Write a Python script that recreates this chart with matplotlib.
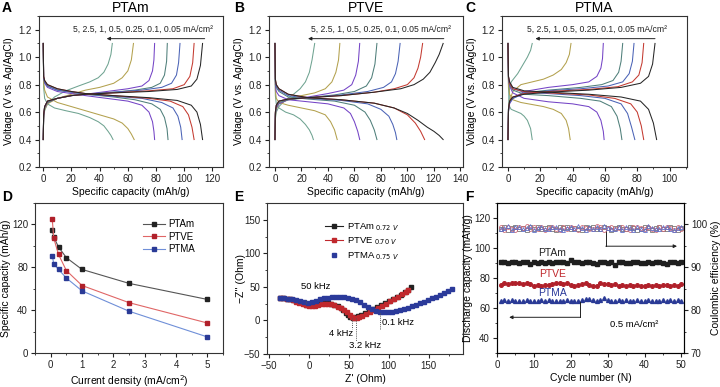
import matplotlib
matplotlib.use("Agg")
import matplotlib.pyplot as plt
from matplotlib.ticker import MultipleLocator

plt.rcParams['font.family'] = ['Liberation Sans', 'DejaVu Sans']
plt.rcParams['axes.linewidth'] = 0.8
plt.rcParams['xtick.major.width'] = 0.8
plt.rcParams['ytick.major.width'] = 0.8
plt.rcParams['xtick.minor.width'] = 0.6
plt.rcParams['ytick.minor.width'] = 0.6
plt.rcParams['xtick.major.size'] = 3
plt.rcParams['ytick.major.size'] = 3
plt.rcParams['xtick.minor.size'] = 1.6
plt.rcParams['ytick.minor.size'] = 1.6
plt.rcParams['xtick.labelsize'] = 7
plt.rcParams['ytick.labelsize'] = 7

# ---------------- data ----------------
rates = ["5", "2.5", "1", "0.5", "0.25", "0.1", "0.05"]
rate_colors = ["#6fa391", "#b3a14e", "#7444c6", "#4f7f7a", "#4b63b6", "#c43a30", "#262626"]

# charge / discharge curves (capacity mAh/g, voltage V), one entry per rate
ptam_ch = [
    ([0, 0.3, 1, 3, 8, 16, 25, 33, 39, 43, 46, 48, 49],
     [0.40, 0.55, 0.61, 0.66, 0.71, 0.755, 0.79, 0.82, 0.85, 0.89, 0.95, 1.02, 1.10]),
    ([0, 0.3, 1, 3, 10, 20, 30, 40, 50, 56, 60, 62.5, 64],
     [0.40, 0.56, 0.62, 0.66, 0.70, 0.73, 0.76, 0.78, 0.81, 0.85, 0.90, 0.98, 1.10]),
    ([0, 0.3, 1, 3, 10, 20, 30, 45, 60, 70, 75, 77.5, 78.5, 79],
     [0.40, 0.57, 0.63, 0.67, 0.70, 0.72, 0.73, 0.75, 0.77, 0.79, 0.83, 0.90, 0.98, 1.10]),
    ([0, 0.3, 1, 3, 10, 20, 30, 50, 65, 77, 83, 86, 87.5, 88],
     [0.40, 0.58, 0.64, 0.67, 0.70, 0.72, 0.73, 0.745, 0.76, 0.78, 0.81, 0.87, 0.97, 1.10]),
    ([0, 0.3, 1, 3, 10, 20, 30, 50, 70, 84, 91, 94.5, 96, 97],
     [0.40, 0.58, 0.64, 0.68, 0.70, 0.72, 0.73, 0.745, 0.76, 0.78, 0.81, 0.87, 0.96, 1.10]),
    ([0, 0.3, 1, 3, 10, 20, 30, 50, 75, 92, 100, 104, 106, 107],
     [0.40, 0.58, 0.64, 0.68, 0.70, 0.72, 0.73, 0.74, 0.755, 0.77, 0.80, 0.86, 0.96, 1.10]),
    ([0, 0.3, 1, 3, 10, 20, 30, 50, 75, 95, 105, 109, 111.5, 113],
     [0.40, 0.58, 0.64, 0.68, 0.70, 0.72, 0.73, 0.74, 0.75, 0.765, 0.79, 0.84, 0.94, 1.10]),
]
ptam_dc = [
    ([0, 0.3, 1, 3, 8, 16, 25, 33, 39, 43, 46, 48, 49.5],
     [1.10, 0.78, 0.70, 0.66, 0.63, 0.61, 0.59, 0.56, 0.53, 0.50, 0.46, 0.43, 0.40]),
    ([0, 0.3, 1, 3, 10, 20, 30, 40, 50, 56, 60, 62.5, 64.5],
     [1.10, 0.82, 0.76, 0.71, 0.67, 0.64, 0.61, 0.58, 0.55, 0.52, 0.48, 0.44, 0.40]),
    ([0, 0.3, 1, 3, 10, 20, 30, 45, 60, 70, 75, 77.5, 78.5, 79],
     [1.10, 0.85, 0.81, 0.78, 0.75, 0.735, 0.72, 0.70, 0.68, 0.65, 0.60, 0.53, 0.46, 0.40]),
    ([0, 0.3, 1, 3, 10, 20, 30, 50, 65, 77, 83, 86, 87.8, 88.5],
     [1.10, 0.85, 0.82, 0.79, 0.76, 0.745, 0.73, 0.71, 0.69, 0.66, 0.62, 0.56, 0.48, 0.40]),
    ([0, 0.3, 1, 3, 10, 20, 30, 50, 70, 84, 92, 95.5, 97.5, 98.5],
     [1.10, 0.85, 0.82, 0.79, 0.76, 0.745, 0.73, 0.715, 0.70, 0.67, 0.63, 0.57, 0.49, 0.40]),
    ([0, 0.3, 1, 3, 10, 20, 30, 50, 75, 90, 99, 103, 105.5, 107],
     [1.10, 0.86, 0.83, 0.80, 0.77, 0.75, 0.735, 0.72, 0.70, 0.68, 0.64, 0.58, 0.49, 0.40]),
    ([0, 0.3, 1, 3, 10, 20, 30, 50, 75, 95, 105, 109, 111.5, 113],
     [1.10, 0.86, 0.83, 0.80, 0.77, 0.75, 0.735, 0.72, 0.705, 0.685, 0.65, 0.60, 0.51, 0.40]),
]

ptve_ch = [
    ([0, 0.3, 1, 3, 8, 14, 19, 23, 26, 28, 30],
     [0.40, 0.55, 0.60, 0.64, 0.69, 0.73, 0.77, 0.82, 0.89, 0.98, 1.10]),
    ([0, 0.3, 1, 3, 10, 20, 30, 38, 43, 46, 48, 49],
     [0.40, 0.57, 0.62, 0.66, 0.69, 0.72, 0.74, 0.77, 0.82, 0.89, 0.98, 1.10]),
    ([0, 0.3, 1, 3, 10, 25, 40, 52, 58, 61, 63, 64],
     [0.40, 0.58, 0.63, 0.66, 0.69, 0.71, 0.735, 0.76, 0.80, 0.87, 0.97, 1.10]),
    ([0, 0.3, 1, 3, 10, 25, 45, 60, 69, 73, 75.5, 77],
     [0.40, 0.59, 0.64, 0.67, 0.69, 0.705, 0.725, 0.75, 0.79, 0.85, 0.95, 1.10]),
    ([0, 0.3, 1, 3, 10, 25, 50, 70, 82, 88, 91, 93, 94.5],
     [0.40, 0.59, 0.65, 0.68, 0.695, 0.705, 0.725, 0.75, 0.78, 0.82, 0.88, 0.97, 1.10]),
    ([0, 0.3, 1, 3, 10, 25, 50, 75, 90, 100, 105, 108, 110, 111.5],
     [0.40, 0.60, 0.65, 0.68, 0.695, 0.705, 0.72, 0.745, 0.77, 0.80, 0.85, 0.92, 1.00, 1.10]),
    ([0, 0.3, 1, 3, 10, 25, 50, 75, 95, 105, 112, 117, 121, 124, 127],
     [0.40, 0.60, 0.65, 0.68, 0.695, 0.705, 0.72, 0.745, 0.77, 0.80, 0.84, 0.89, 0.96, 1.02, 1.10]),
]
ptve_dc = [
    ([0, 0.3, 1, 3, 8, 14, 19, 23, 26, 28, 29],
     [1.10, 0.72, 0.66, 0.63, 0.60, 0.58, 0.55, 0.51, 0.47, 0.43, 0.40]),
    ([0, 0.3, 1, 3, 10, 20, 30, 38, 42, 45, 47],
     [1.10, 0.76, 0.70, 0.67, 0.65, 0.63, 0.61, 0.58, 0.53, 0.47, 0.40]),
    ([0, 0.3, 1, 3, 10, 25, 40, 52, 57, 60, 62.5, 64],
     [1.10, 0.80, 0.75, 0.72, 0.69, 0.675, 0.66, 0.63, 0.59, 0.53, 0.46, 0.40]),
    ([0, 0.3, 1, 3, 10, 25, 45, 60, 68, 72, 75, 77],
     [1.10, 0.82, 0.78, 0.75, 0.71, 0.695, 0.68, 0.65, 0.60, 0.54, 0.47, 0.40]),
    ([0, 0.3, 1, 3, 10, 25, 50, 70, 80, 86, 89, 91, 92],
     [1.10, 0.83, 0.79, 0.76, 0.72, 0.70, 0.685, 0.66, 0.62, 0.57, 0.51, 0.45, 0.40]),
    ([0, 0.3, 1, 3, 10, 25, 50, 75, 90, 100, 106, 110, 113],
     [1.10, 0.84, 0.80, 0.77, 0.73, 0.705, 0.69, 0.665, 0.63, 0.58, 0.52, 0.46, 0.40]),
    ([0, 0.3, 1, 3, 10, 25, 50, 75, 90, 100, 108, 115, 120, 124, 127],
     [1.10, 0.84, 0.80, 0.77, 0.73, 0.705, 0.69, 0.665, 0.63, 0.59, 0.54, 0.49, 0.46, 0.43, 0.40]),
]

ptma_ch = [
    ([0, 0.3, 1, 2, 4, 6, 8, 10, 12, 14, 15],
     [0.40, 0.62, 0.78, 0.82, 0.85, 0.88, 0.92, 0.96, 1.00, 1.05, 1.10]),
    ([0, 0.3, 1, 3, 8, 15, 22, 28, 33, 36, 38, 39],
     [0.40, 0.60, 0.68, 0.75, 0.80, 0.82, 0.84, 0.87, 0.91, 0.96, 1.02, 1.10]),
    ([0, 0.3, 1, 3, 10, 25, 40, 50, 55, 57.5, 58.5, 59],
     [0.40, 0.60, 0.66, 0.70, 0.75, 0.78, 0.80, 0.82, 0.86, 0.92, 0.99, 1.10]),
    ([0, 0.3, 1, 3, 10, 25, 45, 58, 65, 68.5, 70, 71],
     [0.40, 0.61, 0.67, 0.70, 0.74, 0.76, 0.78, 0.80, 0.83, 0.89, 0.97, 1.10]),
    ([0, 0.3, 1, 3, 10, 25, 45, 62, 71, 75, 77, 78],
     [0.40, 0.62, 0.67, 0.70, 0.735, 0.755, 0.77, 0.79, 0.82, 0.88, 0.97, 1.10]),
    ([0, 0.3, 1, 3, 10, 25, 50, 68, 77, 81, 83, 84],
     [0.40, 0.62, 0.68, 0.71, 0.735, 0.75, 0.765, 0.785, 0.82, 0.87, 0.96, 1.10]),
    ([0, 0.3, 1, 3, 10, 25, 50, 70, 82, 87, 89.5, 91],
     [0.40, 0.62, 0.68, 0.71, 0.73, 0.745, 0.76, 0.78, 0.81, 0.86, 0.95, 1.10]),
]
ptma_dc = [
    ([0, 0.3, 1, 2, 4, 6, 8, 10, 12, 14, 15],
     [1.10, 0.78, 0.64, 0.62, 0.61, 0.60, 0.59, 0.57, 0.54, 0.48, 0.40]),
    ([0, 0.3, 1, 3, 8, 15, 22, 28, 33, 36, 37.5, 38.5],
     [1.10, 0.80, 0.73, 0.69, 0.67, 0.655, 0.64, 0.62, 0.59, 0.54, 0.48, 0.40]),
    ([0, 0.3, 1, 3, 10, 25, 40, 50, 55, 57.5, 59, 59.5],
     [1.10, 0.84, 0.79, 0.74, 0.70, 0.675, 0.66, 0.64, 0.60, 0.54, 0.46, 0.40]),
    ([0, 0.3, 1, 3, 10, 25, 45, 57, 64, 67.5, 69.5, 70.5],
     [1.10, 0.85, 0.80, 0.76, 0.73, 0.72, 0.70, 0.68, 0.64, 0.57, 0.48, 0.40]),
    ([0, 0.3, 1, 3, 10, 25, 45, 60, 70, 74, 76.5, 78.5],
     [1.10, 0.86, 0.81, 0.77, 0.745, 0.735, 0.72, 0.70, 0.66, 0.59, 0.49, 0.40]),
    ([0, 0.3, 1, 3, 10, 25, 50, 66, 76, 80, 82.5, 84],
     [1.10, 0.86, 0.81, 0.77, 0.75, 0.74, 0.725, 0.70, 0.66, 0.60, 0.50, 0.40]),
    ([0, 0.3, 1, 3, 10, 25, 50, 70, 82, 87, 90, 92],
     [1.10, 0.86, 0.82, 0.78, 0.755, 0.745, 0.73, 0.71, 0.68, 0.62, 0.52, 0.40]),
]

# rate capability (panel D)
current_density = [0.05, 0.1, 0.25, 0.5, 1, 2.5, 5]
rate_ptam = [115, 108, 99, 89, 78, 65, 50]
rate_ptve = [125, 107, 92, 77, 63, 47, 28]
rate_ptma = [91, 83, 78, 70, 58, 39, 15]

# impedance (panel E)
zre_ptam = [-36, -32, -28, -24, -20, -16, -12, -8, -4, 0, 4, 8, 12, 16, 20, 24, 28, 32, 36,
            40, 43, 46, 49, 52, 55, 58, 61, 65, 70, 75, 80, 85, 90, 95, 100, 105, 110, 115,
            120, 124, 128]
zim_ptam = [33, 33, 32.5, 32, 31, 29.5, 27.5, 25.5, 23.5, 22.5, 22.5, 23.5, 24.5, 25.5, 26, 26,
            25, 23.5, 21, 18, 15, 11.5, 8, 5, 4, 4.5, 6, 8, 10.5, 13.5, 16.5, 19.5, 22.5, 25.5,
            28.5, 31.5, 34.5, 38, 42, 46, 50]
zre_ptve = [-36, -32, -28, -24, -20, -16, -12, -8, -4, 0, 4, 8, 12, 16, 20, 24, 28, 32, 36,
            40, 44, 48, 51, 54, 57, 60, 63, 67, 72, 77, 82, 87, 92, 97, 102, 107, 112, 117,
            121, 124]
zim_ptve = [33.5, 33, 32.5, 31.5, 30, 28, 26, 24, 22.5, 21.5, 21.5, 22, 23, 24, 24.5, 24.5, 24,
            22.5, 20.5, 18, 15.5, 12, 8.5, 5.5, 4, 4, 5, 7, 10, 13, 16, 19, 22, 25, 28.5, 32,
            35.5, 39.5, 43, 46]
zre_ptma = [-36, -31, -26, -21, -16, -11, -6, -1, 4, 9, 14, 19, 24, 29, 34, 39, 44, 49, 54, 59,
            64, 69, 74, 79, 84, 89, 94, 99, 104, 109, 114, 119, 124, 129, 134, 139, 144, 149,
            154, 159, 164, 169, 174, 179]
zim_ptma = [33.5, 33, 32.5, 31.5, 30, 28.5, 27, 26.5, 27.5, 29.5, 31.5, 33, 34, 35, 35.5, 35.5,
            35, 34, 32.5, 30, 27, 23.5, 20, 17, 14.5, 12.5, 12, 12, 12.5, 13.5, 15, 17, 19, 21,
            23, 25.5, 28, 30.5, 33, 35.5, 38.5, 41.5, 44.5, 47.5]

# cycling (panel F)
cycles = list(range(1, 51))
cap_ptam = [90.5, 91, 90, 90.5, 91, 90, 90.5, 91, 89.5, 90.5, 90, 90.5, 90, 90.5, 90, 91, 90.5,
            90.5, 90, 92, 91, 90.5, 90, 91, 90.5, 90, 89.5, 90.5, 91, 90, 90.5, 89, 90.5, 91, 90,
            90, 90.5, 91, 90, 90, 90.5, 90, 91, 90.5, 90, 89.5, 90.5, 91, 90, 90.5]
cap_ptve = [75.5, 76.5, 76, 77, 76.5, 76.5, 76, 76.5, 76, 75, 75.5, 75, 75.5, 75.5, 76, 77, 76.5,
            76, 76.5, 75.5, 75, 75.5, 76, 76.5, 75.5, 75, 74.5, 76.5, 76, 76, 75.5, 76, 75, 75.5,
            75, 75.5, 75, 75.5, 75, 74.5, 75.5, 75, 75.5, 75, 75.5, 75.5, 75, 75.5, 75, 76]
cap_ptma = [64.5, 65.5, 65, 65.5, 65, 65, 65, 65.5, 65, 65, 64.5, 65.5, 65, 65.5, 65, 64.5, 65,
            65, 65.5, 65, 65, 65, 65.5, 66, 66, 65.5, 65, 65.5, 66.5, 65.5, 65, 64.5, 65.5, 65,
            65.5, 65, 65, 65.5, 64.5, 65, 65.5, 65, 64.5, 65, 65.5, 65, 65.5, 65, 65.5, 65]
ce_ptam = [99.0, 99.4, 98.8, 99.2, 99.5, 98.9, 99.1, 98.7, 99.3, 99.0, 99.4, 98.9, 99.2, 99.5,
           99.0, 98.8, 99.3, 99.1, 99.4, 98.9, 99.2, 99.0, 98.7, 99.3, 99.1, 99.5, 98.9, 99.0,
           99.4, 99.2, 98.8, 99.1, 99.3, 99.0, 98.9, 99.4, 99.2, 98.8, 99.0, 99.3, 99.1, 98.6,
           99.2, 99.5, 99.0, 98.9, 99.3, 99.1, 98.8, 99.2]
ce_ptve = [99.3, 98.8, 99.5, 99.0, 98.7, 99.4, 99.2, 99.6, 98.9, 99.3, 99.0, 99.5, 98.8, 99.1,
           99.4, 99.0, 98.7, 99.3, 98.9, 99.5, 99.1, 98.8, 99.4, 99.2, 98.9, 99.0, 99.6, 99.3,
           98.8, 99.1, 99.5, 98.9, 99.2, 99.4, 99.0, 98.7, 99.3, 99.5, 99.1, 98.9, 99.4, 99.0,
           98.6, 99.3, 98.9, 99.5, 99.2, 98.8, 99.4, 99.0]
ce_ptma = [98.9, 99.2, 99.6, 98.8, 99.3, 99.5, 98.9, 99.1, 99.6, 98.8, 99.2, 99.4, 99.0, 98.9,
           99.5, 99.3, 99.0, 98.8, 99.2, 99.4, 98.9, 99.6, 99.1, 98.8, 99.3, 99.0, 99.4, 98.9,
           99.6, 99.2, 98.9, 99.0, 99.5, 98.8, 99.3, 99.1, 98.7, 99.4, 99.0, 98.8, 99.6, 99.2,
           99.0, 98.9, 99.5, 99.3, 99.0, 98.8, 99.2, 99.4]

# ---------------- figure ----------------
W, H = 720, 387
fig = plt.figure(figsize=(7.2, 3.87), dpi=100)


def rect(l, t, r, b):
    return [l / W, 1 - b / H, (r - l) / W, (b - t) / H]


axA = fig.add_axes(rect(39, 16, 223, 167))
axB = fig.add_axes(rect(269, 16, 463, 167))
axC = fig.add_axes(rect(502, 16, 687, 167))
axD = fig.add_axes(rect(35, 203, 223, 353))
axE = fig.add_axes(rect(267, 203, 463, 354))
axF = fig.add_axes(rect(497, 203, 684, 353))

lab_fs = 7.5


def style(ax):
    ax.tick_params(which='both', direction='out', top=False, right=False, pad=2,
                   colors='#222222')
    for s in ax.spines.values():
        s.set_color('#333333')


# top row: charge/discharge
top = [(axA, "PTAm", ptam_ch, ptam_dc, (-3, 127.5), 45, 114.5, 71),
       (axB, "PTVE", ptve_ch, ptve_dc, (-4.5, 142), 25, 127.5, 80),
       (axC, "PTMA", ptma_ch, ptma_dc, (-3.7, 110.8), 17, 91, 55)]
for ax, title, chg, dch, xl, a_end, a_start, tx in top:
    for (cx, cy), (dx, dy), col in zip(chg, dch, rate_colors):
        ax.plot(cx, cy, color=col, lw=0.75)
        ax.plot(dx, dy, color=col, lw=0.75)
    ax.set_xlim(*xl)
    ax.set_ylim(0.2, 1.3)
    ax.set_yticks([0.2, 0.4, 0.6, 0.8, 1.0, 1.2])
    ax.yaxis.set_minor_locator(MultipleLocator(0.1))
    ax.xaxis.set_major_locator(MultipleLocator(20))
    ax.xaxis.set_minor_locator(MultipleLocator(10))
    ax.set_title(title, fontsize=10, pad=3)
    ax.set_xlabel("Specific capacity (mAh/g)", fontsize=lab_fs, labelpad=2)
    ax.set_ylabel("Voltage (V vs. Ag/AgCl)", fontsize=lab_fs, labelpad=3)
    ax.annotate("", xy=(a_end, 1.135), xytext=(a_start, 1.135),
                arrowprops=dict(arrowstyle='-|>', lw=0.7, color='#222222',
                                mutation_scale=5, shrinkA=0, shrinkB=0))
    ax.text(tx, 1.2, ", ".join(rates) + " mA/cm\u00b2", fontsize=6.2, ha='center',
            va='center', color='#222222')
    style(ax)

# panel D
axD.plot(current_density, rate_ptam, color='#555555', lw=0.8, marker='s', ms=3,
         mfc='#222222', mec='#222222', label='PTAm')
axD.plot(current_density, rate_ptve, color='#e06666', lw=0.8, marker='s', ms=3,
         mfc='#b0202a', mec='#b0202a', label='PTVE')
axD.plot(current_density, rate_ptma, color='#6f8fd8', lw=0.8, marker='s', ms=3,
         mfc='#2a3a96', mec='#2a3a96', label='PTMA')
axD.set_xlim(-0.5, 5.5)
axD.set_ylim(0, 140)
axD.set_yticks([0, 40, 80, 120])
axD.yaxis.set_minor_locator(MultipleLocator(20))
axD.xaxis.set_minor_locator(MultipleLocator(0.5))
axD.set_xlabel("Current density (mA/cm$^2$)", fontsize=lab_fs, labelpad=2)
axD.set_ylabel("Specific capacity (mAh/g)", fontsize=lab_fs)
axD.yaxis.set_label_coords(-0.13, 0.5)
axD.legend(loc='upper right', bbox_to_anchor=(0.9, 0.95), frameon=False, fontsize=7,
           handlelength=2.2, labelspacing=0.25, handletextpad=0.4)
style(axD)

# panel E
axE.plot(zre_ptam, zim_ptam, color='#222222', lw=0.8, marker='s', ms=2.2,
         label='PTAm$_{\\ 0.72\\ V}$')
axE.plot(zre_ptve, zim_ptve, color='#c0282d', lw=0.8, marker='s', ms=2.2,
         label='PTVE$_{\\ 0.70\\ V}$')
axE.plot(zre_ptma, zim_ptma, color='#2b3a9a', lw=0, marker='s', ms=2.2,
         label='PTMA$_{\\ 0.75\\ V}$')
axE.set_xlim(-52.5, 193)
axE.set_ylim(-50, 175)
axE.set_xticks([-50, 0, 50, 100, 150])
axE.set_yticks([-50, 0, 50, 100, 150])
axE.xaxis.set_minor_locator(MultipleLocator(25))
axE.yaxis.set_minor_locator(MultipleLocator(25))
axE.set_xlabel("Z' (Ohm)", fontsize=lab_fs, labelpad=2)
axE.set_ylabel("\u2212Z'' (Ohm)", fontsize=lab_fs)
axE.yaxis.set_label_coords(-0.105, 0.5)
axE.legend(loc='upper left', bbox_to_anchor=(0.25, 0.94), frameon=False, fontsize=6.8,
           handlelength=2.0, labelspacing=0.25, handletextpad=0.4, markerscale=1.3)
dot = dict(color='#555555', lw=0.7, ls=(0, (1, 1.2)))
axE.plot([-4, -4], [26, 32], **dot)
axE.plot([54, 54], [3, -13], **dot)
axE.plot([59, 59], [3, -30], **dot)
axE.plot([89, 89], [11, -14], **dot)
axE.text(8, 50, "50 kHz", fontsize=6.8, ha='center', va='center')
axE.text(40, -19, "4 kHz", fontsize=6.8, ha='center', va='center')
axE.text(70, -37.5, "3.2 kHz", fontsize=6.8, ha='center', va='center')
axE.text(111, -2.5, "0.1 kHz", fontsize=6.8, ha='center', va='center')
style(axE)

# panel F
axF2 = axF.twinx()
axF.plot(cycles, cap_ptam, ls='none', marker='s', ms=2.6, color='#1e1e1e')
axF.plot(cycles, cap_ptve, ls='none', marker='o', ms=2.6, color='#b0202a')
axF.plot(cycles, cap_ptma, ls='none', marker='^', ms=2.8, color='#2a3a96')
axF2.plot(cycles, ce_ptam, ls='none', marker='s', ms=2.8, mfc='none', mec='#777777', mew=0.6)
axF2.plot(cycles, ce_ptve, ls='none', marker='o', ms=2.8, mfc='none', mec='#d06a78', mew=0.6)
axF2.plot(cycles, ce_ptma, ls='none', marker='^', ms=2.8, mfc='none', mec='#6070c8', mew=0.6)
axF.set_xlim(0, 50.7)
axF.set_ylim(30, 130)
axF.set_yticks([40, 60, 80, 100, 120])
axF.yaxis.set_minor_locator(MultipleLocator(10))
axF.xaxis.set_major_locator(MultipleLocator(10))
axF.xaxis.set_minor_locator(MultipleLocator(5))
axF2.set_ylim(70, 105)
axF2.set_yticks([70, 80, 90, 100])
axF2.yaxis.set_minor_locator(MultipleLocator(5))
axF.set_xlabel("Cycle number (N)", fontsize=lab_fs, labelpad=2)
axF.set_ylabel("Discharge capacity (mAh/g)", fontsize=lab_fs)
axF.yaxis.set_label_coords(-0.13, 0.5)
axF2.set_ylabel("Coulombic efficiency (%)", fontsize=lab_fs, labelpad=3)
style(axF)
axF2.tick_params(which='both', direction='out', pad=2, colors='#222222')
axF.text(15, 96.5, "PTAm", fontsize=7.5, ha='center', va='center', color='#222222')
axF.text(15, 82.5, "PTVE", fontsize=7.5, ha='center', va='center', color='#c0282d')
axF.text(15, 70, "PTMA", fontsize=7.5, ha='center', va='center', color='#2b3a9a')
axF.text(37.3, 48.7, "0.5 mA/cm\u00b2", fontsize=6.8, ha='center', va='center')
axF.plot([29.5, 29.5], [114, 101.2], color='#222222', lw=0.7)
axF.annotate("", xy=(48.8, 101.2), xytext=(29.5, 101.2),
             arrowprops=dict(arrowstyle='-|>', lw=0.7, color='#222222',
                             mutation_scale=5, shrinkA=0, shrinkB=0))
axF.plot([22.6, 22.6], [64, 53.8], color='#222222', lw=0.7)
axF.annotate("", xy=(3.3, 53.8), xytext=(22.6, 53.8),
             arrowprops=dict(arrowstyle='-|>', lw=0.7, color='#222222',
                             mutation_scale=5, shrinkA=0, shrinkB=0))

# panel letters
for letter, px, py in [("A", 2, 8), ("B", 234, 8), ("C", 465, 8),
                       ("D", 2, 197), ("E", 234, 197), ("F", 465, 197)]:
    fig.text(px / W, 1 - py / H, letter, fontsize=10, fontweight='bold',
             ha='left', va='center')

fig.savefig("out.png", dpi=100)
